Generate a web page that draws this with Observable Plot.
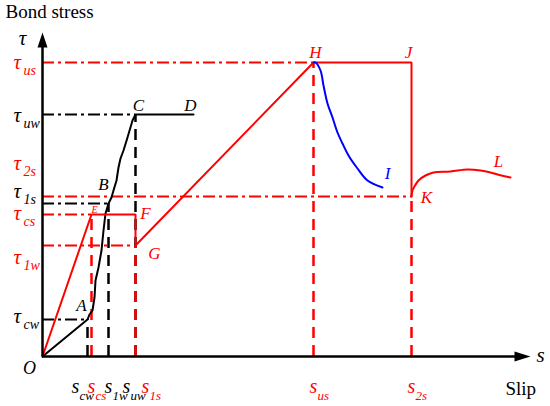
<!DOCTYPE html>
<html><head><meta charset="utf-8">
<script src="https://cdn.jsdelivr.net/npm/d3@7"></script>
<script src="https://cdn.jsdelivr.net/npm/@observablehq/plot@0.6"></script>
<style>body{margin:0;background:#fff} svg text{font-family:"Liberation Serif","DejaVu Serif","Noto Serif",Times,serif !important}</style>
</head><body><div id="chart"></div>
<script>
// ---- data (slip s, bond stress tau; schematic units) ----
// black curve (wire): O -> A -> B -> C -> D
const wireS   = [0, 45, 47, 50, 52, 53, 56, 59, 61, 63, 66, 69, 71, 74, 76, 78, 81, 85, 90, 93, 151];
const wireTau = [0, 37, 42, 46, 59, 76, 89, 106, 126, 143, 153, 159, 166, 176, 189, 198, 206, 219, 236, 242, 242];
// red polyline (strand): O -> E -> F -> G -> H -> J -> K
const strandS   = [0, 49, 93, 93, 271, 369, 369];
const strandTau = [0, 142, 142, 111, 294, 294, 160];
// red post-peak curve K -> L
const tailS   = [369, 370, 372, 376, 383, 391, 408, 425, 438, 448, 455, 468];
const tailTau = [160, 166, 170, 176, 181, 184, 185, 187, 186, 184, 182, 179];
// blue descending branch H -> I
const blueS   = [271, 273, 278, 281, 285, 290, 295, 300, 306, 315, 325, 340];
const blueTau = [294, 294, 286, 271, 253, 239, 224, 213, 201, 188, 176, 169];

// characteristic levels (dash-dot guide lines to the axis)
const redLevels     = [294, 160, 142, 111];
const redLevelEnds  = [271, 369, 49, 93];
const blackLevels   = [242, 153, 37];
const blackLevelEnds= [93, 66, 45];
// characteristic slips (dashed guide lines to the axis)
const redSlips      = [49, 93, 271, 369];
const redSlipTops   = [142, 111, 294, 160];
const blackSlips    = [45, 66, 93];
const blackSlipTops = [37, 153, 242];

// tau tick labels
const tauSubsRed   = ["us", "2s", "cs", "1w"];
const tauAtRed     = [294, 193, 143, 99];
const tauSubsBlack = ["uw", "1s", "cw"];
const tauAtBlack   = [241, 165, 40];
// slip tick labels
const sSubsRed   = ["cs", "1s", "us", "2s"];
const sAtRed     = [49, 103, 271, 369];
const sSubsBlack = ["cw", "1w", "uw"];
const sAtBlack   = [33, 66, 84];

// point labels
const ptBlack = ["A", "B", "C", "D"];
const ptBlackS = [39, 61, 96, 148];
const ptBlackT = [51, 172, 251, 251];
const ptRed = ["F", "G", "H", "J", "K", "L"];
const ptRedS = [103, 112, 273, 366, 384, 456];
const ptRedT = [143, 103, 304, 304, 159, 195];
const ptSmallRed = ["E"]; const ptSmallS = [52]; const ptSmallT = [147];
const ptBlue = ["I"]; const ptBlueS = [345]; const ptBlueT = [183];

const RED = "#ff0000", BLUE = "#0000ff";
const FONT = "'Liberation Serif', 'DejaVu Serif', serif";
const pts = (xs, ys) => xs.map((x, i) => ({x, y: ys[i]}));
const lab = (ts, xs, ys) => ts.map((t, i) => ({t, x: xs[i], y: ys[i]}));

const upHead = {draw(c) { c.moveTo(0, 0); c.lineTo(5, 15); c.lineTo(-5, 15); c.closePath(); }};
const rightHead = {draw(c) { c.moveTo(0, 0); c.lineTo(-16, 5); c.lineTo(-16, -5); c.closePath(); }};

const dashDot = "12,4,3,4";
const dashed = "11,7";
const T = {fontFamily: FONT};

const chart = Plot.plot({
  width: 550, height: 406,
  margin: 0,
  x: {domain: [-42, 508], range: [0, 550], axis: null},
  y: {domain: [-50, 356], range: [406, 0], axis: null},
  style: {fontFamily: FONT, background: "#fff"},
  marks: [
    // guide lines
    Plot.ruleY(pts(blackLevels, blackLevelEnds), {y: "x", x1: 0, x2: "y", stroke: "black", strokeWidth: 2, strokeDasharray: dashDot}),
    Plot.ruleY(pts(redLevels, redLevelEnds), {y: "x", x1: 0, x2: "y", stroke: RED, strokeWidth: 2, strokeDasharray: dashDot}),
    Plot.ruleX(pts(blackSlips, blackSlipTops), {x: "x", y1: 0, y2: "y", stroke: "black", strokeWidth: 2.5, strokeDasharray: dashed}),
    Plot.ruleX(pts(redSlips, redSlipTops), {x: "x", y1: 0, y2: "y", stroke: RED, strokeWidth: 2.5, strokeDasharray: dashed}),
    // curves
    Plot.line(pts(wireS, wireTau), {x: "x", y: "y", stroke: "black", strokeWidth: 2}),
    Plot.line(pts(strandS, strandTau), {x: "x", y: "y", stroke: RED, strokeWidth: 2, strokeLinejoin: "miter"}),
    Plot.line(pts(tailS, tailTau), {x: "x", y: "y", stroke: RED, strokeWidth: 2, curve: "catmull-rom"}),
    Plot.line(pts(blueS, blueTau), {x: "x", y: "y", stroke: BLUE, strokeWidth: 2, curve: "catmull-rom"}),
    // axes
    Plot.ruleX([0], {y1: 0, y2: 312, stroke: "black", strokeWidth: 2.5}),
    Plot.ruleY([0], {x1: 0, x2: 474, stroke: "black", strokeWidth: 2.5}),
    Plot.dot([{x: 0, y: 324}], {x: "x", y: "y", symbol: upHead, r: 5, fill: "black", stroke: "none"}),
    Plot.dot([{x: 488, y: 0}], {x: "x", y: "y", symbol: rightHead, r: 5, fill: "black", stroke: "none"}),
    // tau labels
    Plot.text(tauAtRed, {...T, x: -29, y: d => d, text: () => "τ", textAnchor: "start", fontSize: 21, fontStyle: "italic", fill: RED}),
    Plot.text(tauAtRed, {...T, x: -29, y: d => d, text: (d, i) => tauSubsRed[i], textAnchor: "start", dx: 10, dy: 8, fontSize: 14, fontStyle: "italic", fill: RED}),
    Plot.text(tauAtBlack, {...T, x: -29, y: d => d, text: () => "τ", textAnchor: "start", fontSize: 21, fontStyle: "italic", fill: "black"}),
    Plot.text(tauAtBlack, {...T, x: -29, y: d => d, text: (d, i) => tauSubsBlack[i], textAnchor: "start", dx: 10, dy: 8, fontSize: 14, fontStyle: "italic", fill: "black"}),
    // slip labels
    Plot.text(sAtRed, {...T, x: d => d, y: -30, text: () => "s", fontSize: 20, fontStyle: "italic", fill: RED}),
    Plot.text(sAtRed, {...T, x: d => d, y: -30, text: (d, i) => sSubsRed[i], textAnchor: "start", dx: 4, dy: 9, fontSize: 13, fontStyle: "italic", fill: RED}),
    Plot.text(sAtBlack, {...T, x: d => d, y: -30, text: () => "s", fontSize: 20, fontStyle: "italic", fill: "black"}),
    Plot.text(sAtBlack, {...T, x: d => d, y: -30, text: (d, i) => sSubsBlack[i], textAnchor: "start", dx: 4, dy: 9, fontSize: 13, fontStyle: "italic", fill: "black"}),
    // point labels
    Plot.text(lab(ptBlack, ptBlackS, ptBlackT), {...T, x: "x", y: "y", text: "t", fontSize: 17, fontStyle: "italic", fill: "black"}),
    Plot.text(lab(ptRed, ptRedS, ptRedT), {...T, x: "x", y: "y", text: "t", fontSize: 17, fontStyle: "italic", fill: RED}),
    Plot.text(lab(ptSmallRed, ptSmallS, ptSmallT), {...T, x: "x", y: "y", text: "t", fontSize: 10, fontStyle: "italic", fill: RED}),
    Plot.text(lab(ptBlue, ptBlueS, ptBlueT), {...T, x: "x", y: "y", text: "t", fontSize: 17, fontStyle: "italic", fill: BLUE}),
    // axis titles
    Plot.text(["τ"], {...T, x: -20, y: 318, text: d => d, fontSize: 21, fontStyle: "italic"}),
    Plot.text(["O"], {...T, x: -13, y: -12, text: d => d, fontSize: 18, fontStyle: "italic"}),
    Plot.text(["s"], {...T, x: 498, y: 1, text: d => d, fontSize: 21, fontStyle: "italic"}),
    Plot.text(["Bond stress"], {...T, x: -37, y: 345, text: d => d, textAnchor: "start", fontSize: 19}),
    Plot.text(["Slip"], {...T, x: 463, y: -32, text: d => d, textAnchor: "start", fontSize: 19})
  ]
});
document.getElementById("chart").appendChild(chart);
</script>
</body></html>
